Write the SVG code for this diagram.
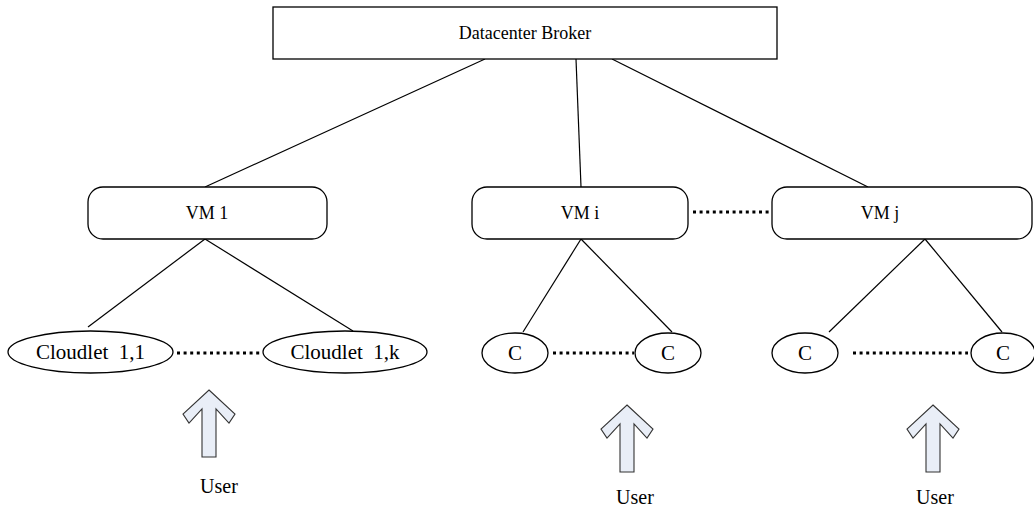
<svg xmlns="http://www.w3.org/2000/svg" width="1034" height="510" viewBox="0 0 1034 510">
<style>
.box{fill:#fff;stroke:#000;stroke-width:1.3}
.ln{stroke:#000;stroke-width:1.2;fill:none}
.dot{stroke:#000;stroke-width:3;stroke-dasharray:3 3.6;fill:none}
.t{font-family:"Liberation Serif","Times New Roman",serif;fill:#000;text-anchor:middle}
.arr{fill:#e9eef7;stroke:#333;stroke-width:1.1;stroke-linejoin:miter}
</style>
<defs>
<path id="up" d="M0,0 L26,24 L20,33 L7,19 L7,67 L-7,67 L-7,19 L-20,33 L-26,24 Z"/>
</defs>
<g id="connectors">
<line class="ln" x1="485" y1="59" x2="205" y2="187"/>
<line class="ln" x1="576" y1="59" x2="581" y2="187"/>
<line class="ln" x1="612" y1="59" x2="868" y2="187"/>
<line class="ln" x1="205" y1="239" x2="88" y2="327"/>
<line class="ln" x1="205" y1="239" x2="353" y2="331"/>
<line class="ln" x1="581" y1="239" x2="523" y2="332"/>
<line class="ln" x1="581" y1="239" x2="672" y2="332"/>
<line class="ln" x1="925" y1="239" x2="829" y2="332"/>
<line class="ln" x1="925" y1="239" x2="1002" y2="332"/>
<line class="dot" x1="693" y1="212" x2="772" y2="212"/>
<line class="dot" x1="177" y1="353" x2="262" y2="353"/>
<line class="dot" x1="553" y1="353" x2="634" y2="353"/>
<line class="dot" x1="853" y1="353" x2="968" y2="353"/>
</g>
<g id="broker">
<rect class="box" x="273" y="7" width="504" height="52"/>
<text class="t" x="525" y="39" font-size="18">Datacenter Broker</text>
</g>
<g id="vm1">
<rect class="box" x="88" y="187" width="239" height="52" rx="15"/>
<text class="t" x="207" y="219" font-size="18">VM 1</text>
</g>
<g id="vmi">
<rect class="box" x="472" y="187" width="216" height="52" rx="15"/>
<text class="t" x="580" y="219" font-size="18">VM i</text>
</g>
<g id="vmj">
<rect class="box" x="772" y="187" width="260" height="52" rx="15"/>
<text class="t" x="880" y="219" font-size="18">VM j</text>
</g>
<g id="cloudlet11">
<ellipse class="box" cx="90.5" cy="352" rx="82.5" ry="21"/>
<text class="t" x="90.5" y="359" font-size="21" xml:space="preserve">Cloudlet  1,1</text>
</g>
<g id="cloudlet1k">
<ellipse class="box" cx="345" cy="352" rx="82" ry="21"/>
<text class="t" x="345" y="359" font-size="21" xml:space="preserve">Cloudlet  1,k</text>
</g>
<g id="c1">
<ellipse class="box" cx="515" cy="353" rx="33" ry="20"/>
<text class="t" x="515" y="360" font-size="21">C</text>
</g>
<g id="c2">
<ellipse class="box" cx="668" cy="353" rx="33" ry="20"/>
<text class="t" x="668" y="360" font-size="21">C</text>
</g>
<g id="c3">
<ellipse class="box" cx="805" cy="353" rx="33" ry="20"/>
<text class="t" x="805" y="360" font-size="21">C</text>
</g>
<g id="c4">
<ellipse class="box" cx="1003" cy="353" rx="32" ry="20"/>
<text class="t" x="1003" y="360" font-size="21">C</text>
</g>
<g id="user1">
<use href="#up" class="arr" x="209" y="390"/>
<text class="t" x="219" y="493" font-size="20">User</text>
</g>
<g id="user2">
<use href="#up" class="arr" x="627" y="405"/>
<text class="t" x="635" y="504" font-size="20">User</text>
</g>
<g id="user3">
<use href="#up" class="arr" x="933" y="405"/>
<text class="t" x="935" y="504" font-size="20">User</text>
</g>
</svg>
